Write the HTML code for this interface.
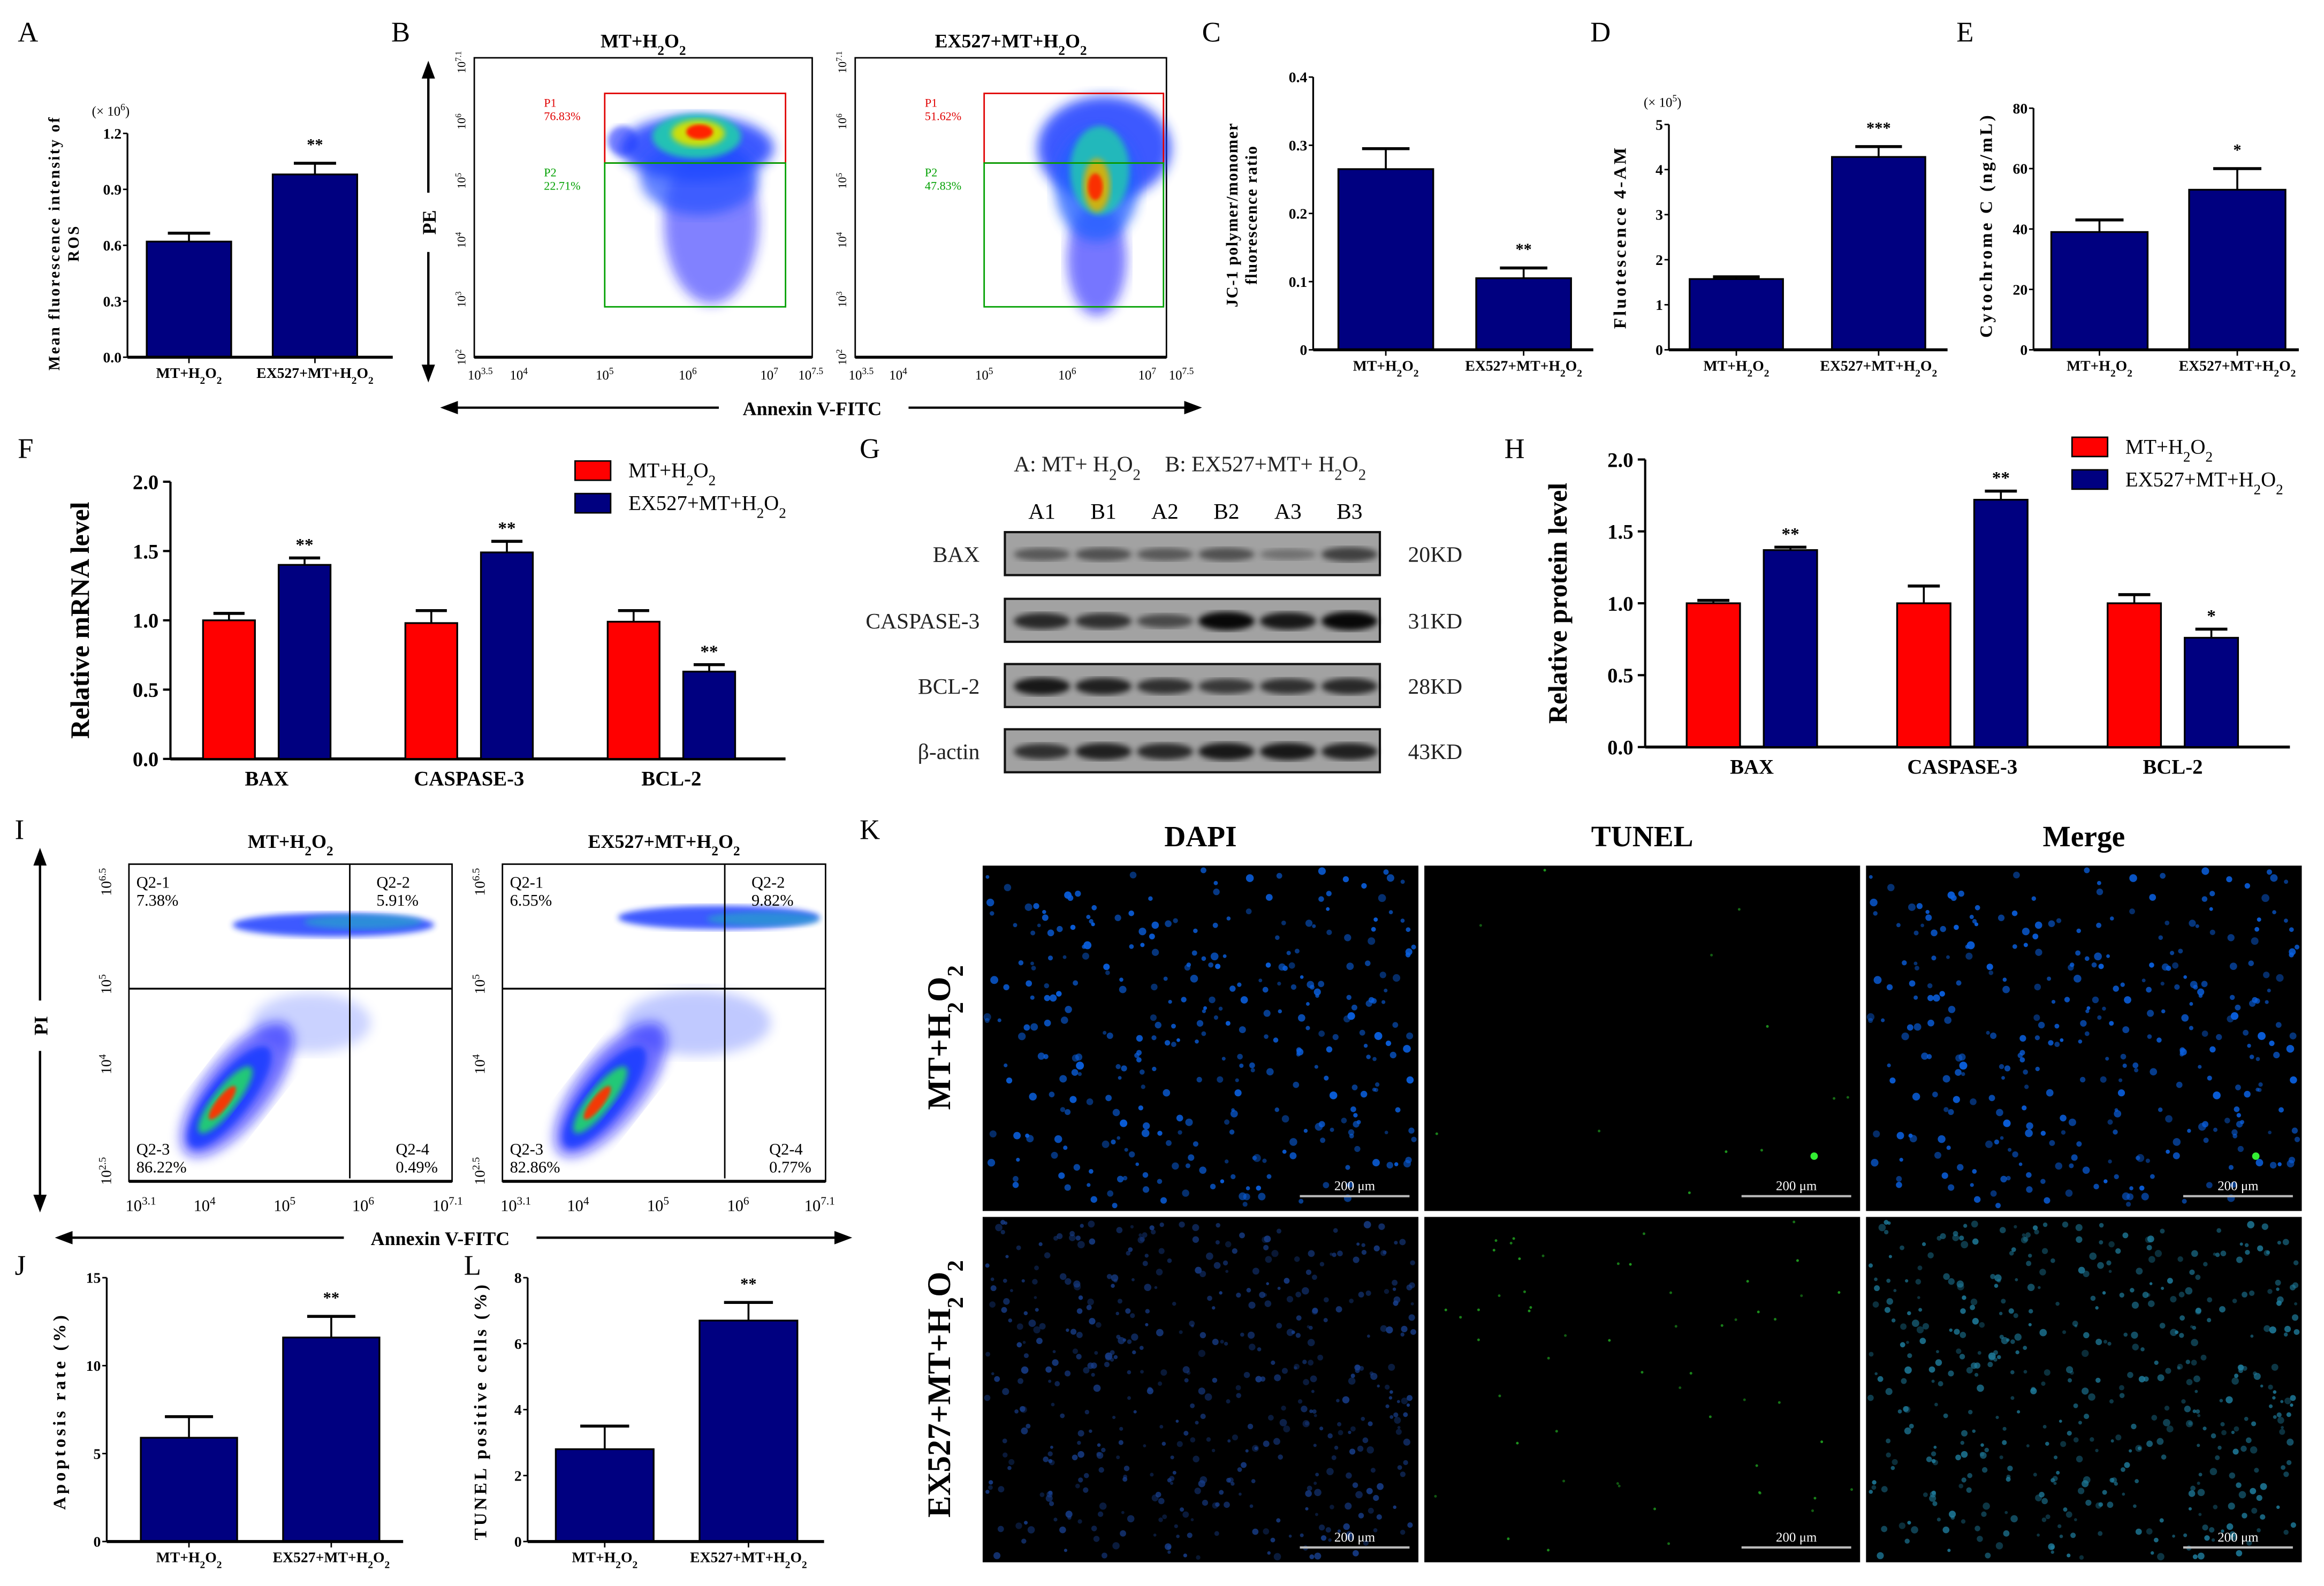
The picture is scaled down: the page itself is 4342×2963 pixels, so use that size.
<!DOCTYPE html>
<html><head><meta charset="utf-8">
<style>
html,body{margin:0;padding:0;background:#fff;}
svg{display:block;}
text{font-family:"Liberation Serif",serif;}
</style></head>
<body>
<svg id="fig" xmlns="http://www.w3.org/2000/svg" width="4342" height="2963" viewBox="0 0 1568 1070" preserveAspectRatio="none">
<defs>
<filter id="blur1"><feGaussianBlur stdDeviation="1.2"/></filter>
<filter id="blur2"><feGaussianBlur stdDeviation="2"/></filter>
<filter id="blur5"><feGaussianBlur stdDeviation="4"/></filter>
<filter id="blur9"><feGaussianBlur stdDeviation="7"/></filter>
<marker id="arrE" markerWidth="8" markerHeight="8" refX="6" refY="4" orient="auto"><path d="M0,1 L8,4 L0,7 z" fill="#000"/></marker>
</defs>
<g id="root"></g>
</svg>
<script>
// ---------- data ----------
const aCats=["MT+H2O2","EX527+MT+H2O2"];
const aVals=[0.62,0.98]; const aErrs=[0.045,0.06]; const aTicks=[0,0.3,0.6,0.9,1.2];
const cVals=[0.265,0.105]; const cErrs=[0.03,0.015]; const cTicks=[0,0.1,0.2,0.3,0.4];
const dVals=[1.57,4.28]; const dErrs=[0.05,0.23]; const dTicks=[0,1,2,3,4,5];
const eVals=[39,53]; const eErrs=[4,7]; const eTicks=[0,20,40,60,80];
const jVals=[5.9,11.6]; const jErrs=[1.2,1.2]; const jTicks=[0,5,10,15];
const lVals=[2.8,6.7]; const lErrs=[0.7,0.55]; const lTicks=[0,2,4,6,8];
const gCats=["BAX","CASPASE-3","BCL-2"];
const fRed=[1.0,0.98,0.99]; const fRedErr=[0.05,0.09,0.08];
const fBlue=[1.4,1.49,0.63]; const fBlueErr=[0.05,0.08,0.05]; const fStars=["**","**","**"];
const hRed=[1.0,1.0,1.0]; const hRedErr=[0.02,0.12,0.06];
const hBlue=[1.37,1.72,0.76]; const hBlueErr=[0.02,0.06,0.06]; const hStars=["**","**","*"];
const gTicks=[0,0.5,1.0,1.5,2.0];
const blotNames=["BAX","CASPASE-3","BCL-2","β-actin"]; const blotKD=["20KD","31KD","28KD","43KD"];
const lanes=["A1","B1","A2","B2","A3","B3"];
const blotInt=[[0.45,0.5,0.45,0.5,0.3,0.6],[0.75,0.7,0.55,0.95,0.85,0.95],[0.85,0.8,0.7,0.65,0.7,0.75],[0.7,0.8,0.75,0.85,0.85,0.8]];
const flowBxTicks=["3.5","4","5","6","7","7.5"];
const flowByTicks=["7.1","6","5","4","3","2"];
const flowIxTicks=["3.1","4","5","6","7.1"];
const flowIyTicks=["6.5","5","4","2.5"];

const NS="http://www.w3.org/2000/svg";
const root=document.getElementById('root');
function mk(tag,at,par){const e=document.createElementNS(NS,tag);for(const k in at)e.setAttribute(k,at[k]);(par||root).appendChild(e);return e;}
function sub(s){return s.replace(/H2O2/g,'H<tspan baseline-shift="sub" font-size="70%">2</tspan>O<tspan baseline-shift="sub" font-size="70%">2</tspan>');}
function txt(x,y,s,at,name){const t=mk('text',Object.assign({x:x,y:y,fill:'#000'},at||{}));t.innerHTML=sub(s);


return t;}
function line(x1,y1,x2,y2,w,name,c){const l=mk('line',{x1,y1,x2,y2,stroke:c||'#000','stroke-width':w||1});


return l;}
function pow(e){return '10<tspan baseline-shift="super" font-size="70%">'+e+'</tspan>';}

// ---------- simple 2-bar panels ----------
function twoBar(o,vals,errs,ticks){
  const g=mk('g',{});
  
  
  const max=ticks[ticks.length-1];
  const y=v=>o.y0-(v/max)*(o.y0-o.y1);
  line(o.x0,o.y1,o.x0,o.y0,1.2,'y-axis');
  line(o.x0,o.y0,o.xe,o.y0,2,'x-axis');
  ticks.forEach(t=>{line(o.x0-3,y(t),o.x0,y(t),1,'y-tick');
    txt(o.x0-4,y(t)+3.5,o.fmt?o.fmt(t):String(t),{'font-size':o.fs||10,'font-weight':'bold','text-anchor':'end'},'y-tick-label');});
  vals.forEach((v,i)=>{
    const bx=o.bx[i];
    const r=mk('rect',{x:bx,y:y(v),width:o.bw,height:o.y0-y(v),fill:'#000080',stroke:'#000','stroke-width':1.2},g);
    
    
    const cx=bx+o.bw/2;
    line(cx,y(v),cx,y(v+errs[i]),1.3,'error-bar');
    line(cx-o.bw*0.25,y(v+errs[i]),cx+o.bw*0.25,y(v+errs[i]),2,'error-cap');
    line(cx,o.y0,cx,o.y0+4,1,'x-tick');
    txt(cx,o.y0+14,aCats[i],{'font-size':o.xfs||10,'font-weight':'bold','text-anchor':'middle'},'x-tick-label');
  });
  const e=vals[1]+errs[1];
  txt(o.bx[1]+o.bw/2,y(e)-9,o.star,{'font-size':11,'font-weight':'bold','text-anchor':'middle'},'significance-star');
  o.ylab.forEach((s,k)=>txt(0,0,s,{'font-size':o.yfs||11,'letter-spacing':o.ls||1.3,'font-weight':'bold','text-anchor':'middle',transform:`translate(${o.ylx+k*13},${o.yly}) rotate(-90)`},'y-axis-title'));
}
twoBar({name:'panel-a-chart',x0:86,xe:265,y0:241,y1:90,bx:[99,184],bw:57,star:'**',ylab:['Mean fluorescence intensity of','ROS'],ylx:40,yly:164,yfs:10.5,ls:1.2,fmt:t=>t.toFixed(1)},aVals,aErrs,aTicks);
txt(62,78,'(× 10<tspan baseline-shift="super" font-size="70%">6</tspan>)',{'font-size':9},'y-scale-note');
twoBar({name:'panel-c-chart',x0:886,xe:1075,y0:236,y1:52,bx:[903,996],bw:64,star:'**',ylab:['JC-1 polymer/monomer','fluorescence ratio'],ylx:835,yly:145,ls:0.6},cVals,cErrs,cTicks);
twoBar({name:'panel-d-chart',x0:1126,xe:1314,y0:236,y1:84,bx:[1140,1236],bw:63,star:'***',ylab:['Fluotescence 4-AM'],ylx:1097,yly:160,yfs:12,ls:1.5},dVals,dErrs,dTicks);
txt(1109,72,'(× 10<tspan baseline-shift="super" font-size="70%">5</tspan>)',{'font-size':9},'y-scale-note');
twoBar({name:'panel-e-chart',x0:1372,xe:1551,y0:236,y1:73,bx:[1384,1477],bw:65,star:'*',ylab:['Cytochrome C (ng/mL)'],ylx:1344,yly:152,yfs:12,ls:1.6},eVals,eErrs,eTicks);
twoBar({name:'panel-j-chart',x0:72,xe:272,y0:1040,y1:862,bx:[95,191],bw:65,star:'**',ylab:['Apoptosis rate (%)'],ylx:44,yly:952,yfs:12,ls:2},jVals,jErrs,jTicks);
twoBar({name:'panel-l-chart',x0:356,xe:556,y0:1040,y1:862,bx:[375,472],bw:66,star:'**',ylab:['TUNEL positive cells (%)'],ylx:328,yly:952,yfs:12,ls:1.8},lVals,lErrs,lTicks);

// ---------- grouped charts ----------
function grouped(o,red,redE,blue,blueE,stars){
  const max=gTicks[gTicks.length-1];
  const y=v=>o.y0-(v/max)*(o.y0-o.y1);
  line(o.x0,o.y1,o.x0,o.y0,1.5,'y-axis');
  line(o.x0,o.y0,o.xe,o.y0,2,'x-axis');
  gTicks.forEach(t=>{line(o.x0-5,y(t),o.x0,y(t),1.5,'y-tick');
    txt(o.x0-8,y(t)+5,t.toFixed(1),{'font-size':14,'font-weight':'bold','text-anchor':'end'},'y-tick-label');});
  gCats.forEach((c,i)=>{
    const rx=o.rx+i*o.step, bx=rx+o.gap;
    [[rx,red[i],redE[i],'#ff0000','red'],[bx,blue[i],blueE[i],'#000080','blue']].forEach(([x,v,e,col,n])=>{
      const r=mk('rect',{x:x,y:y(v),width:o.bw,height:o.y0-y(v),fill:col,stroke:'#000','stroke-width':1.2});
      
      
      const cx=x+o.bw/2;
      line(cx,y(v),cx,y(v+e),1.3,'error-bar');
      line(cx-o.bw*0.3,y(v+e),cx+o.bw*0.3,y(v+e),2,'error-cap');
    });
    txt(bx+o.bw/2,y(blue[i]+blueE[i])-5,stars[i],{'font-size':12,'font-weight':'bold','text-anchor':'middle'},'significance-star');
    txt((rx+bx+o.bw)/2,o.y0+18,c,{'font-size':14,'font-weight':'bold','text-anchor':'middle'},'x-tick-label');
  });
  txt(0,0,o.ylab,{'font-size':18,'font-weight':'bold','text-anchor':'middle',transform:`translate(${o.ylx},${(o.y0+o.y1)/2}) rotate(-90)`},'y-axis-title');
  const lr=mk('rect',{x:o.lx,y:o.ly,width:24,height:13,fill:'#ff0000',stroke:'#000'});
  
  
  txt(o.lx+36,o.ly+11,'MT+H2O2',{'font-size':14},'legend-entry');
  const lb=mk('rect',{x:o.lx,y:o.ly+22,width:24,height:13,fill:'#000080',stroke:'#000'});
  
  
  txt(o.lx+36,o.ly+33,'EX527+MT+H2O2',{'font-size':14},'legend-entry');
}
grouped({x0:115,xe:530,y0:512,y1:325,rx:137,step:136.5,gap:51,bw:35,ylab:'Relative mRNA level',ylx:60,lx:388,ly:311},fRed,fRedErr,fBlue,fBlueErr,fStars);
grouped({x0:1110,xe:1545,y0:504,y1:310,rx:1138,step:142,gap:52,bw:36,ylab:'Relative protein level',ylx:1057,lx:1398,ly:295},hRed,hRedErr,hBlue,hBlueErr,hStars);

// ---------- western blot ----------
txt(684,318,'A: MT+ H2O2',{'font-size':15,'fill':'#222'},'blot-legend-a');
txt(786,318,'B: EX527+MT+ H2O2',{'font-size':15,'fill':'#222'},'blot-legend-b');
lanes.forEach((l,i)=>txt(703+i*41.5,350,l,{'font-size':15,'text-anchor':'middle'},'lane-label'));
const blotY=[359,404,448,492];
blotNames.forEach((n,r)=>{
  const g=mk('g',{});
  
  
  mk('rect',{x:678,y:blotY[r],width:253,height:29,fill:'#a2a2a2',stroke:'#111','stroke-width':1.5},g);
  blotInt[r].forEach((v,i)=>{
    const b=mk('ellipse',{cx:703+i*41.5,cy:blotY[r]+15,rx:19,ry:2.5+v*4,fill:'#000',opacity:v,filter:'url(#blur2)'},g);
    
    
  });
  txt(661,blotY[r]+20,n,{'font-size':15,'text-anchor':'end','fill':'#222'},'blot-protein-label');
  txt(950,blotY[r]+20,blotKD[r],{'font-size':15,'fill':'#222'},'blot-kd-label');
});

// ---------- flow cytometry B ----------
function cloud(par,parts){parts.forEach(p=>{const e=mk('ellipse',{cx:p[0],cy:p[1],rx:p[2],ry:p[3],fill:p[4],opacity:p[5],filter:'url(#'+p[6]+')',transform:p[7]?`rotate(${p[7]} ${p[0]} ${p[1]})`:''},par);

});}
function flowB(x0,x1,gx0,gx1,title,p1,p2,xpos,parts){
  const g=mk('g',{});
  
  
  mk('rect',{x:x0,y:39,width:x1-x0,height:202,fill:'#fff',stroke:'#000','stroke-width':1},g);
  cloud(g,parts);
  line(x0,241,x1,241,2,'x-axis');
  mk('rect',{x:gx0,y:63,width:gx1-gx0,height:47,fill:'none',stroke:'#e00000','stroke-width':1},g);
  mk('rect',{x:gx0,y:110,width:gx1-gx0,height:97,fill:'none',stroke:'#00a000','stroke-width':1},g);
  txt(x0+47,72,'P1',{'font-size':8,fill:'#e00000','font-family':'Liberation Sans'},'gate-p1-label');txt(x0+47,81,p1,{'font-size':8,fill:'#e00000','font-family':'Liberation Sans'},'gate-p1-value');
  txt(x0+47,119,'P2',{'font-size':8,fill:'#00a000','font-family':'Liberation Sans'},'gate-p2-label');txt(x0+47,128,p2,{'font-size':8,fill:'#00a000','font-family':'Liberation Sans'},'gate-p2-value');
  txt((x0+x1)/2,32,title,{'font-size':13,'font-weight':'bold','text-anchor':'middle'},'plot-title');
  flowBxTicks.forEach((t,i)=>txt(xpos[i],256,pow(t),{'font-size':9,'text-anchor':'middle'},'x-tick-label'));
  const yp=[42,82,122,162,202,241];
  flowByTicks.forEach((t,i)=>txt(0,0,pow(t),{'font-size':8,'font-family':'Liberation Sans','text-anchor':'middle',transform:`translate(${x0-6},${yp[i]}) rotate(-90)`},'y-tick-label'));
}
flowB(320,548,408,530,'MT+H2O2','76.83%','22.71%',[324,350,408,464,519,547],[
 [420,95,10,10,'#2233ff',0.6,'blur2'],
 [480,150,32,55,'#1a1aff',0.55,'blur5'],[470,100,52,22,'#1a3cff',0.85,'blur5'],[472,120,40,25,'#2050ff',0.7,'blur5'],
 [470,92,30,15,'#20c8b0',0.95,'blur2'],[471,90,18,9,'#d8e000',0.95,'blur2'],[472,89,9,5,'#ff2000',1,'blur1']]);
flowB(577,787,664,785,'EX527+MT+H2O2','51.62%','47.83%',[581,606,664,720,774,797],[
 [740,175,20,38,'#1a1aff',0.6,'blur5'],[745,100,45,35,'#1a3cff',0.85,'blur5'],[740,125,28,38,'#2060ff',0.8,'blur5'],
 [742,115,20,30,'#20c8b0',0.85,'blur2'],[740,125,9,18,'#e0b000',0.9,'blur2'],[739,126,5,9,'#ff2000',0.9,'blur1']]);
line(289,255,289,44,1.5,'pe-axis-arrow').setAttribute('marker-end','url(#arrE)');
line(289,44,289,255,1.5,'pe-axis-arrow').setAttribute('marker-end','url(#arrE)');
mk('rect',{x:282,y:130,width:14,height:40,fill:'#fff'});
txt(0,0,'PE',{'font-size':13,'font-weight':'bold','text-anchor':'middle',transform:'translate(294,150) rotate(-90)'},'y-axis-title');
line(300,275,808,275,1.5,'annexin-axis-arrow').setAttribute('marker-end','url(#arrE)');
line(808,275,300,275,1.5,'annexin-axis-arrow').setAttribute('marker-end','url(#arrE)');
mk('rect',{x:485,y:265,width:128,height:20,fill:'#fff'});
txt(548,280,'Annexin V-FITC',{'font-size':13,'font-weight':'bold','text-anchor':'middle'},'x-axis-title');

// ---------- flow cytometry I ----------
function flowI(x0,x1,vx,title,q,xpos,parts){
  const g=mk('g',{});
  
  
  mk('rect',{x:x0,y:583,width:x1-x0,height:214,fill:'#fff',stroke:'#000','stroke-width':1},g);
  cloud(g,parts);
  line(x0,797,x1,797,2,'x-axis');
  line(vx,583,vx,795,1,'quadrant-line');line(x0,667,x1,667,1.2,'quadrant-line');
  const f={'font-size':11,'font-family':'Liberation Sans'};
  txt(x0+5,599,'Q2-1',f,'quadrant-label');txt(x0+5,611,q[0],f,'quadrant-value');
  txt(vx+18,599,'Q2-2',f,'quadrant-label');txt(vx+18,611,q[1],f,'quadrant-value');
  txt(x0+5,779,'Q2-3',f,'quadrant-label');txt(x0+5,791,q[2],f,'quadrant-value');
  txt(x1-38,779,'Q2-4',f,'quadrant-label');txt(x1-38,791,q[3],f,'quadrant-value');
  txt((x0+x1)/2,572,title,{'font-size':13,'font-weight':'bold','text-anchor':'middle'},'plot-title');
  flowIxTicks.forEach((t,i)=>txt(xpos[i],817,pow(t),{'font-size':11,'font-family':'Liberation Sans','text-anchor':'middle'},'x-tick-label'));
  const yp=[595,664,718,790];
  flowIyTicks.forEach((t,i)=>txt(0,0,pow(t),{'font-size':10,'font-family':'Liberation Sans','text-anchor':'middle',transform:`translate(${x0-12},${yp[i]}) rotate(-90)`},'y-tick-label'));
}
flowI(87,305,236,'MT+H2O2',['7.38%','5.91%','86.22%','0.49%'],[95,138,192,245,302],[
 [225,624,68,8,'#1a3cff',0.85,'blur2'],[245,622,40,5,'#20b0c0',0.6,'blur2'],[210,690,40,20,'#3050ff',0.25,'blur5'],
 [160,735,22,55,'#1010ff',0.6,'blur5',38],[155,740,14,42,'#1a3cff',0.9,'blur2',38],[152,742,8,28,'#20d070',0.95,'blur2',38],[150,744,4,14,'#ff3000',0.95,'blur1',38]]);
flowI(339,557,489,'EX527+MT+H2O2',['6.55%','9.82%','82.86%','0.77%'],[348,390,444,498,553],[
 [485,619,68,8,'#1a3cff',0.85,'blur2'],[515,620,38,5,'#20b0c0',0.6,'blur2'],[470,690,50,22,'#3050ff',0.3,'blur5'],
 [412,735,22,55,'#1010ff',0.6,'blur5',38],[408,740,14,42,'#1a3cff',0.9,'blur2',38],[405,742,8,28,'#20d070',0.95,'blur2',38],[403,744,4,14,'#ff3000',0.95,'blur1',38]]);
line(27,815,27,575,1.5,'pi-axis-arrow').setAttribute('marker-end','url(#arrE)');
line(27,575,27,815,1.5,'pi-axis-arrow').setAttribute('marker-end','url(#arrE)');
mk('rect',{x:20,y:675,width:14,height:34,fill:'#fff'});
txt(0,0,'PI',{'font-size':13,'font-weight':'bold','text-anchor':'middle',transform:'translate(32,692) rotate(-90)'},'y-axis-title');
line(40,835,572,835,1.5,'annexin-axis-arrow').setAttribute('marker-end','url(#arrE)');
line(572,835,40,835,1.5,'annexin-axis-arrow').setAttribute('marker-end','url(#arrE)');
mk('rect',{x:232,y:825,width:130,height:20,fill:'#fff'});
txt(297,840,'Annexin V-FITC',{'font-size':13,'font-weight':'bold','text-anchor':'middle'},'x-axis-title');

// ---------- panel K microscopy ----------
let seed=7;function rnd(){seed=(seed*16807)%2147483647;return seed/2147483647;}
const colsX=[663,961,1259]; const rowsY=[584,821];
["DAPI","TUNEL","Merge"].forEach((h,c)=>txt(colsX[c]+147,571,h,{'font-size':20,'font-weight':'bold','text-anchor':'middle'},'column-header'));
rowsY.forEach((ry,r)=>colsX.forEach((cx,c)=>{
  const g=mk('g',{});
  
  
  mk('rect',{x:cx,y:ry,width:294,height:233,fill:'#000'},g);
  seed=11+r*31;
  const n=r?480:330;
  for(let k=0;k<n;k++){
    const x=cx+3+rnd()*288,y=ry+3+rnd()*227,s=(r?1.0:1.2)+rnd()*1.5,b=rnd();
    if(c===1){ if(rnd()<(r?0.12:0.03)) mk('circle',{cx:x,cy:y,r:0.9,fill:'#22aa22',opacity:0.5+b*0.4},g); }
    else mk('circle',{cx:x,cy:y,r:s,fill:r?(c===2?'#1f7fa0':'#18408f'):'#0a60e0',opacity:(r?0.35:0.45)+b*0.5},g);
  }
  if(r===0&&c!==0){mk('circle',{cx:cx+263,cy:ry+196,r:2.5,fill:'#33ee33'},g);}
  line(cx+214,ry+223,cx+288,ry+223,1.5,'scale-bar','#bbb');
  txt(cx+251,ry+219,'200 μm',{'font-size':9,'font-family':'Liberation Sans','fill':'#fff','text-anchor':'middle'},'scale-bar-label');
}));
txt(0,0,'MT+H2O2',{'font-size':22,'font-weight':'bold','text-anchor':'middle',transform:'translate(641,700) rotate(-90)'},'row-label');
txt(0,0,'EX527+MT+H2O2',{'font-size':22,'font-weight':'bold','text-anchor':'middle',transform:'translate(641,937) rotate(-90)'},'row-label');

// ---------- panel letters ----------
[['A',12,28],['B',264,28],['C',811,28],['D',1073,28],['E',1320,28],['F',12,309],['G',580,309],['H',1015,309],['I',10,566],['K',580,566],['J',10,860],['L',313,860]]
.forEach(p=>txt(p[1],p[2],p[0],{'font-size':19},'panel-letter'));
</script>
</body></html>
